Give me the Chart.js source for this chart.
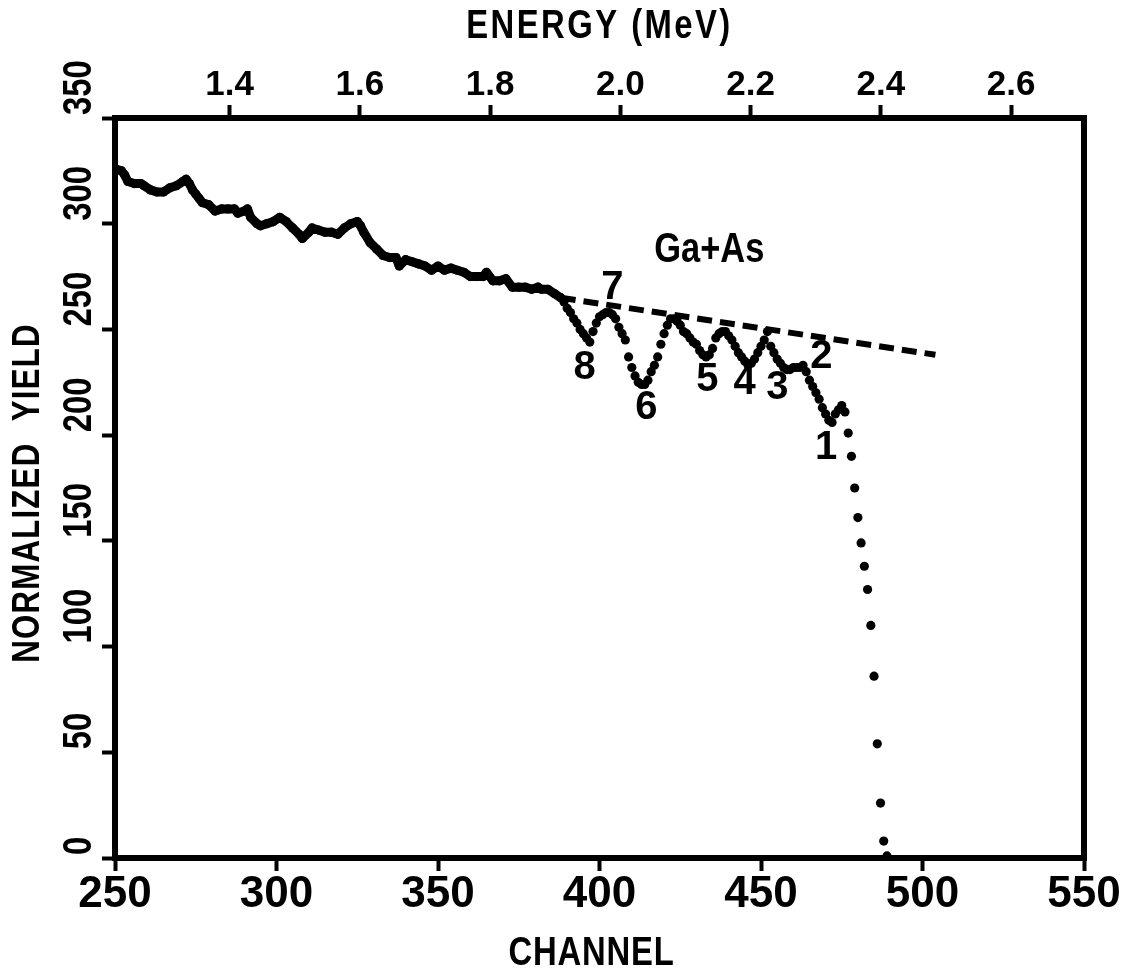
<!DOCTYPE html>
<html>
<head>
<meta charset="utf-8">
<script src="https://cdn.jsdelivr.net/npm/chart.js@4.4.1/dist/chart.umd.min.js"></script>
<style>
  html, body { margin: 0; padding: 0; background: #fff; }
  #wrap { width: 1133px; height: 974px; }
</style>
</head>
<body>
<div id="wrap"><canvas id="chart" width="1133" height="974"></canvas></div>
<script>
// spectrum below the surface peaks (read every ~2 channels)
const contChannels = [250, 252, 253, 254, 256, 258, 259, 261, 263, 265, 267, 269, 271, 272, 273, 274,
  275, 276, 277, 279, 281, 283, 285, 287, 288, 290, 291, 292, 294, 295, 297, 299, 301, 303, 305,
  307, 308, 310, 311, 313, 315, 317, 319, 321, 323, 325, 326, 327, 329, 331, 333, 335, 337, 338,
  340, 342, 344, 346, 348, 350, 352, 354, 356, 358, 360, 362, 364, 365, 367, 369, 371, 373, 375,
  377, 379, 381, 382, 384, 386, 388];
const contYield = [326, 325, 323, 320, 319, 319, 318, 316, 315, 315, 317, 318, 320, 321, 319, 316,
  314, 312, 310, 309, 306, 307, 307, 307, 305, 306, 307, 303, 300, 299, 300, 301, 303, 301, 298,
  295, 293, 296, 298, 297, 296, 296, 295, 298, 300, 301, 299, 296, 291, 288, 285, 284, 284, 280,
  283, 282, 281, 280, 278, 280, 278, 279, 278, 277, 275, 275, 275, 277, 273, 273, 274, 270, 270,
  270, 269, 270, 269, 269, 267, 265];

// dips 8..1 and the leading edge, one dot per channel
const edgeChannels = [389, 390, 391, 392, 393, 394, 395, 396, 397, 398, 399, 400, 401, 402, 403,
  404, 405, 406, 407, 408, 409, 410, 411, 412, 413, 414, 415, 416, 417, 418, 419, 420, 421, 422,
  423, 424, 425, 426, 427, 428, 429, 430, 431, 432, 433, 434, 435, 436, 437, 438, 439, 440, 441,
  442, 443, 444, 445, 446, 447, 448, 449, 450, 451, 452, 453, 454, 455, 456, 457, 458, 459, 460,
  461, 462, 463, 464, 465, 466, 467, 468, 469, 470, 471, 472, 473, 474, 475, 476, 477, 478, 479,
  480, 481, 482, 483, 484, 485, 486, 487, 488, 489];
const edgeYield = [263, 260, 258, 255, 253, 250, 248, 246, 244, 249, 253, 256, 257, 258, 258,
  257, 255, 251, 248, 245, 237, 232, 228, 225, 224, 224, 226, 230, 233, 237, 243, 248, 252, 255,
  255, 254, 252, 249, 248, 246, 244, 243, 240, 238, 237, 238, 241, 246, 248, 249, 249, 247, 245,
  242, 239, 237, 235, 233, 234, 236, 239, 242, 245, 249, 242, 239, 236, 234, 232, 231, 231, 232,
  232, 232, 233, 230, 226, 223, 220, 217, 213, 210, 207, 206, 210, 212, 214, 211, 201, 190, 175,
  161, 149, 138, 127, 110, 86, 54, 26, 8, 1];

// Ga+As reference line
const guideChannels = [388, 504];
const guideYield = [265, 238];

const channelTicks = [250, 300, 350, 400, 450, 500, 550];
const yieldTicks = [0, 50, 100, 150, 200, 250, 300, 350];
const energyTicks = [1.4, 1.6, 1.8, 2.0, 2.2, 2.4, 2.6];
const energyAtEnds = [1.224, 2.712]; // energy at channel 250 and 550

const peakLabels = ["8", "7", "6", "5", "4", "3", "2", "1"];
const peakLabelChannels = [395.4, 404, 414.5, 433.4, 444.9, 455.1, 468.7, 470.2];
const peakLabelYield = [232, 269.5, 213, 226, 224.7, 222.5, 237, 194];
const compLabel = "Ga+As";
const compLabelAt = [434, 287.6];

const FONT = "'Liberation Sans', Arial, sans-serif";

function pairs(xs, ys) {
  return xs.map((x, i) => ({ x: x, y: ys[i] }));
}

// condensed bold text (the figure uses a narrow lettering)
function narrowText(ctx, text, x, y, size, angle, align, spacing) {
  ctx.save();
  ctx.translate(x, y);
  ctx.rotate(angle);
  ctx.scale(0.82, 1);
  ctx.font = "bold " + size + "px " + FONT;
  ctx.fillStyle = "#000";
  ctx.textAlign = align;
  ctx.textBaseline = "middle";
  ctx.letterSpacing = (spacing || 0) + "px";
  ctx.fillText(text, 0, 0);
  ctx.restore();
}

const figureText = {
  id: "figureText",
  afterDraw(chart) {
    const { ctx, chartArea: a, scales } = chart;
    const midX = (a.left + a.right) / 2;
    const midY = (a.top + a.bottom) / 2;

    ctx.save();
    ctx.strokeStyle = "#000";
    ctx.lineWidth = 6;
    ctx.strokeRect(a.left, a.top, a.right - a.left, a.bottom - a.top);
    ctx.restore();

    // rotated yield labels, starting at their tick
    yieldTicks.forEach((v) => {
      const py = scales.y.getPixelForValue(v);
      narrowText(ctx, String(v), a.left - 35, py - 3, 40, -Math.PI / 2, "left", 0);
    });

    narrowText(ctx, "ENERGY (MeV)", midX, 27, 40, 0, "center", 3);
    narrowText(ctx, "CHANNEL", midX - 8, 954, 40, 0, "center", 1);
    ctx.save();
    ctx.wordSpacing = "14px";
    narrowText(ctx, "NORMALIZED YIELD", 29, midY + 5, 38, -Math.PI / 2, "center", 1.5);
    ctx.restore();

    ctx.save();
    ctx.fillStyle = "#000";
    ctx.font = "bold 40px " + FONT;
    ctx.textAlign = "center";
    ctx.textBaseline = "middle";
    peakLabels.forEach((t, i) => {
      ctx.fillText(t, scales.x.getPixelForValue(peakLabelChannels[i]),
        scales.y.getPixelForValue(peakLabelYield[i]));
    });
    ctx.restore();
    narrowText(ctx, compLabel, scales.x.getPixelForValue(compLabelAt[0]),
      scales.y.getPixelForValue(compLabelAt[1]), 42, 0, "center", 0);
  }
};

const tickGrid = {
  drawOnChartArea: false,
  drawTicks: true,
  tickLength: 13,
  tickWidth: 4,
  tickColor: "#000",
  color: "#000"
};

new Chart(document.getElementById("chart"), {
  type: "scatter",
  data: {
    datasets: [
      {
        data: pairs(contChannels, contYield),
        showLine: true,
        borderColor: "#000",
        borderWidth: 9,
        borderJoinStyle: "round",
        borderCapStyle: "round",
        pointRadius: 4.6,
        pointBorderWidth: 0,
        pointBackgroundColor: "#000"
      },
      {
        data: pairs(edgeChannels, edgeYield),
        showLine: false,
        pointRadius: 4.6,
        pointBorderWidth: 0,
        pointBackgroundColor: "#000"
      },
      {
        data: pairs(guideChannels, guideYield),
        showLine: true,
        borderColor: "#000",
        borderWidth: 6,
        borderDash: [15, 8],
        pointRadius: 0
      }
    ]
  },
  options: {
    responsive: false,
    animation: false,
    layout: { padding: { left: 0, right: 49, top: 0, bottom: 0 } },
    plugins: {
      legend: { display: false },
      tooltip: { enabled: false }
    },
    scales: {
      x: {
        type: "linear",
        position: "bottom",
        min: 250,
        max: 550,
        afterBuildTicks: (s) => { s.ticks = channelTicks.map((v) => ({ value: v })); },
        afterFit: (s) => { s.height = 116; },
        ticks: {
          color: "#000",
          padding: 2,
          maxRotation: 0,
          autoSkip: false,
          font: { family: FONT, size: 44, weight: "bold", lineHeight: 1 }
        },
        grid: tickGrid,
        border: { display: false }
      },
      energy: {
        type: "linear",
        position: "top",
        min: energyAtEnds[0],
        max: energyAtEnds[1],
        afterBuildTicks: (s) => { s.ticks = energyTicks.map((v) => ({ value: v })); },
        afterFit: (s) => { s.height = 118; },
        ticks: {
          color: "#000",
          padding: 2.5,
          maxRotation: 0,
          autoSkip: false,
          callback: (v) => Number(v).toFixed(1),
          font: { family: FONT, size: 35, weight: "bold", lineHeight: 1 }
        },
        grid: tickGrid,
        border: { display: false }
      },
      y: {
        type: "linear",
        position: "left",
        min: 0,
        max: 350,
        afterBuildTicks: (s) => { s.ticks = yieldTicks.map((v) => ({ value: v })); },
        afterFit: (s) => { s.width = 115; },
        ticks: { display: false },
        grid: tickGrid,
        border: { display: false }
      }
    }
  },
  plugins: [figureText]
});
</script>
</body>
</html>
